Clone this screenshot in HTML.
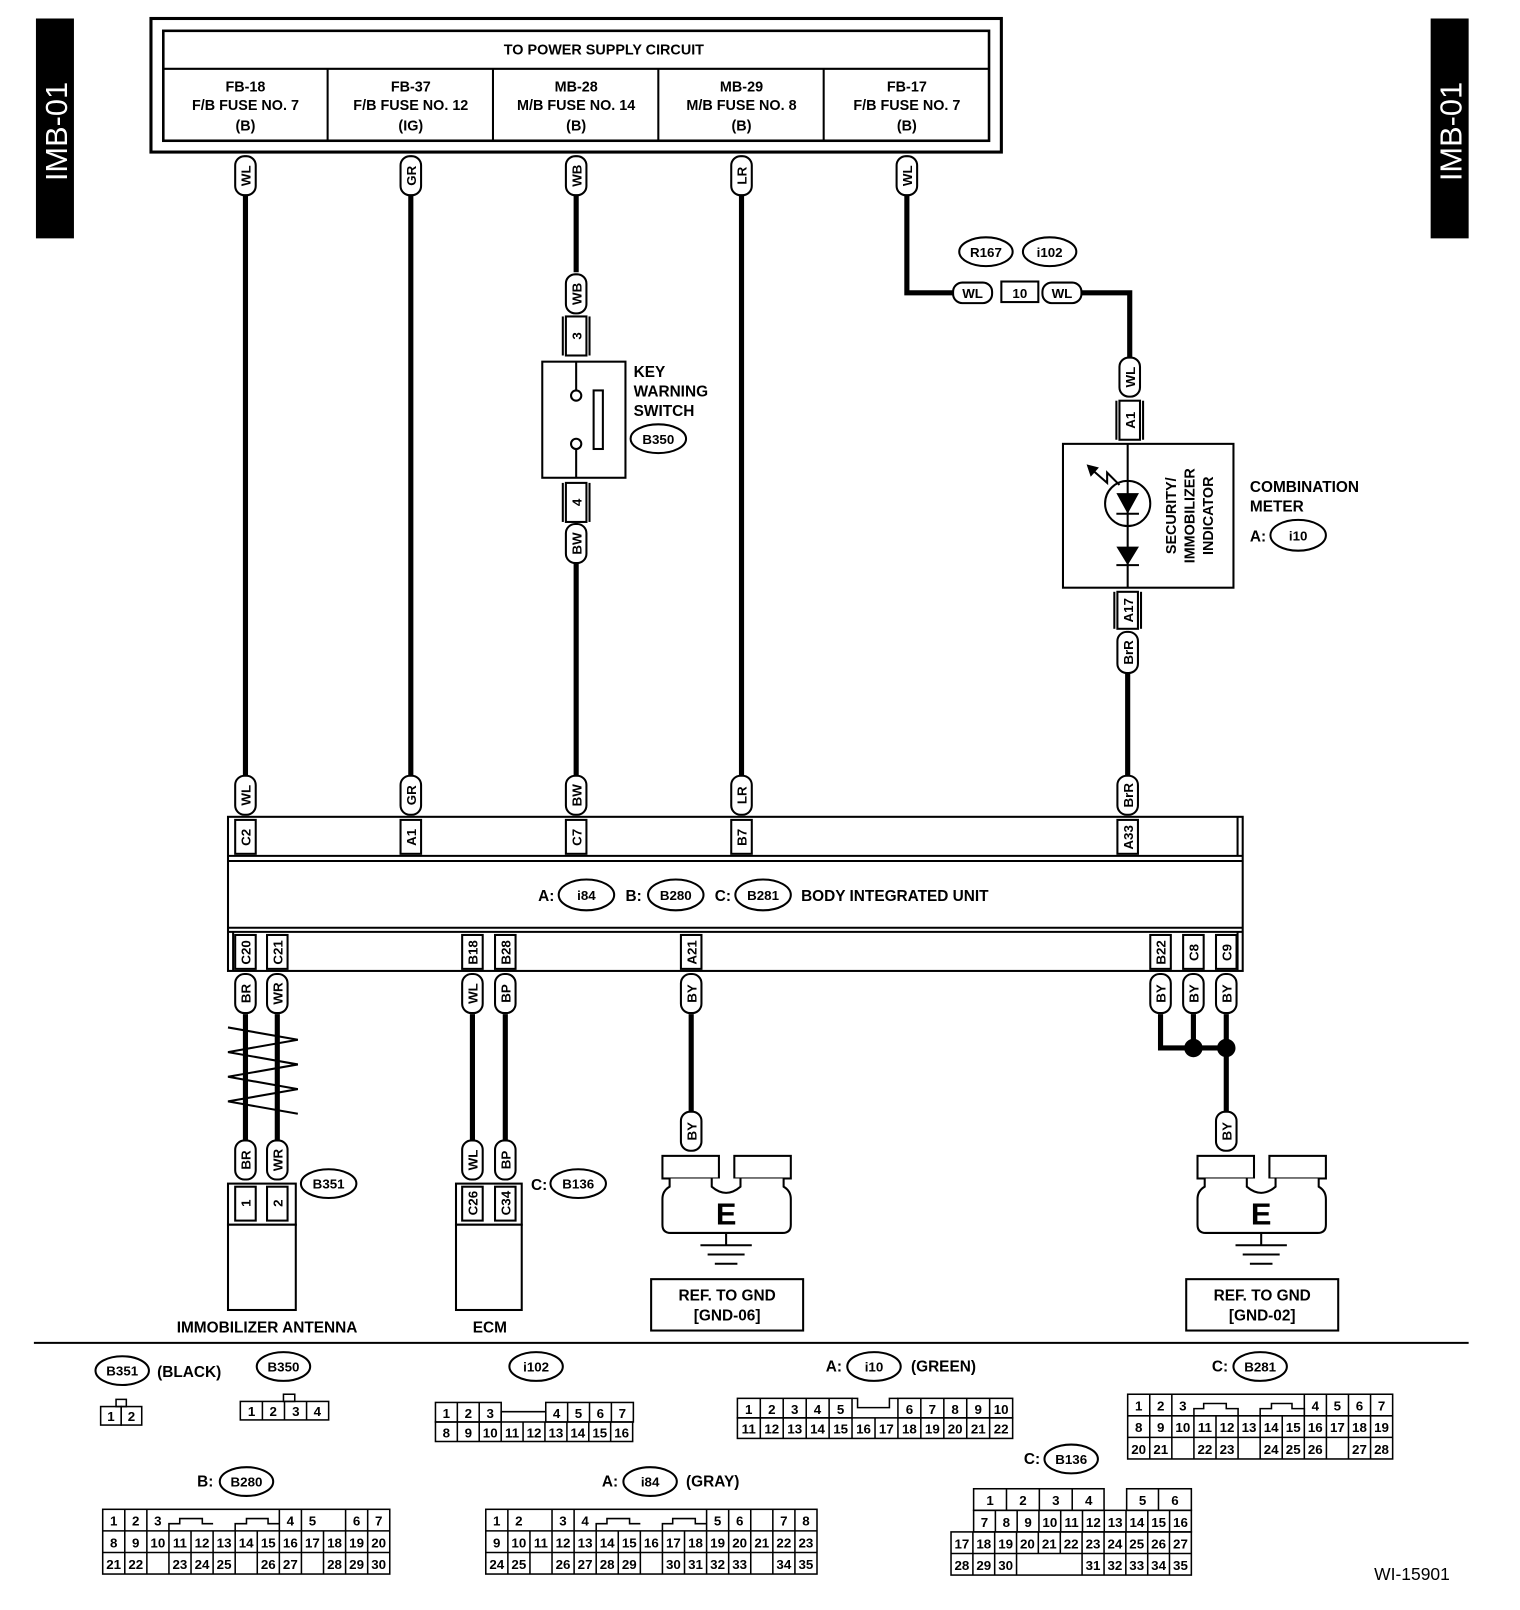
<!DOCTYPE html>
<html><head><meta charset="utf-8"><style>
html,body{margin:0;padding:0;background:#fff}
svg{display:block}
text{font-family:"Liberation Sans",sans-serif;font-weight:bold;fill:#000}
</style></head><body>
<svg width="1520" height="1610" viewBox="0 0 1480 1567" preserveAspectRatio="none" xmlns="http://www.w3.org/2000/svg">
<g font-size="14">
<rect x="35" y="18" width="37" height="214" fill="#000"/>
<text transform="translate(65,128) rotate(-90)" text-anchor="middle" font-size="30" style="fill:#fff;font-weight:normal">IMB-01</text>
<rect x="1393" y="18" width="37" height="214" fill="#000"/>
<text transform="translate(1423,128) rotate(-90)" text-anchor="middle" font-size="30" style="fill:#fff;font-weight:normal">IMB-01</text>

<rect x="147" y="18" width="828" height="130" fill="none" stroke="#000" stroke-width="3"/>
<rect x="159" y="30" width="804" height="107" fill="none" stroke="#000" stroke-width="2.5"/>
<line x1="159" y1="67" x2="963" y2="67" stroke="#000" stroke-width="2"/>
<g stroke="#000" stroke-width="2"><line x1="319" y1="67" x2="319" y2="137"/><line x1="480" y1="67" x2="480" y2="137"/><line x1="641" y1="67" x2="641" y2="137"/><line x1="802" y1="67" x2="802" y2="137"/></g>
<g font-size="14" text-anchor="middle" style="font-weight:normal">
<text x="588" y="53">TO POWER SUPPLY CIRCUIT</text>
<text x="239" y="89">FB-18</text><text x="239" y="107">F/B FUSE NO. 7</text><text x="239" y="127">(B)</text>
<text x="400" y="89">FB-37</text><text x="400" y="107">F/B FUSE NO. 12</text><text x="400" y="127">(IG)</text>
<text x="561" y="89">MB-28</text><text x="561" y="107">M/B FUSE NO. 14</text><text x="561" y="127">(B)</text>
<text x="722" y="89">MB-29</text><text x="722" y="107">M/B FUSE NO. 8</text><text x="722" y="127">(B)</text>
<text x="883" y="89">FB-17</text><text x="883" y="107">F/B FUSE NO. 7</text><text x="883" y="127">(B)</text>
</g>

<g stroke="#000" stroke-width="5" fill="none">
<line x1="239" y1="190" x2="239" y2="755"/>
<line x1="400" y1="190" x2="400" y2="755"/>
<line x1="722" y1="190" x2="722" y2="755"/>
<line x1="561" y1="190" x2="561" y2="265"/>
<line x1="561" y1="548" x2="561" y2="755"/>
<polyline points="883,190 883,285 928,285"/>
<polyline points="1053,285 1100,285 1100,348"/>
<line x1="1098" y1="655" x2="1098" y2="755"/>
<line x1="239" y1="987" x2="239" y2="1110"/>
<line x1="270" y1="987" x2="270" y2="1110"/>
<line x1="460" y1="987" x2="460" y2="1110"/>
<line x1="492" y1="987" x2="492" y2="1110"/>
<line x1="673" y1="987" x2="673" y2="1082"/>
<polyline points="1130,987 1130,1020 1194,1020"/>
<line x1="1162" y1="987" x2="1162" y2="1020"/>
<line x1="1194" y1="987" x2="1194" y2="1082"/>
</g>
<circle cx="1162" cy="1020" r="9"/><circle cx="1194" cy="1020" r="9"/>
<polyline points="222,1000 290,1012 222,1024 290,1036 222,1048 290,1060 222,1072 290,1084" fill="none" stroke="#000" stroke-width="2"/>

<g fill="#fff" stroke="#000" stroke-width="2">
<rect x="229" y="152" width="20" height="38" rx="9"/><rect x="390" y="152" width="20" height="38" rx="9"/><rect x="551" y="152" width="20" height="38" rx="9"/><rect x="712" y="152" width="20" height="38" rx="9"/><rect x="873" y="152" width="20" height="38" rx="9"/>
<rect x="551" y="267" width="20" height="38" rx="9"/><rect x="551" y="510" width="20" height="38" rx="9"/>
<rect x="1090" y="348" width="20" height="38" rx="9"/><rect x="1088" y="615" width="20" height="40" rx="9"/>
<rect x="229" y="755" width="20" height="38" rx="9"/><rect x="390" y="755" width="20" height="38" rx="9"/><rect x="551" y="755" width="20" height="38" rx="9"/><rect x="712" y="755" width="20" height="38" rx="9"/><rect x="1088" y="755" width="20" height="38" rx="9"/>
<rect x="229" y="948" width="20" height="38" rx="9"/><rect x="260" y="948" width="20" height="38" rx="9"/><rect x="450" y="948" width="20" height="38" rx="9"/><rect x="482" y="948" width="20" height="38" rx="9"/><rect x="663" y="948" width="20" height="38" rx="9"/>
<rect x="1120" y="948" width="20" height="38" rx="9"/><rect x="1152" y="948" width="20" height="38" rx="9"/><rect x="1184" y="948" width="20" height="38" rx="9"/>
<rect x="229" y="1110" width="20" height="38" rx="9"/><rect x="260" y="1110" width="20" height="38" rx="9"/><rect x="450" y="1110" width="20" height="38" rx="9"/><rect x="482" y="1110" width="20" height="38" rx="9"/>
<rect x="663" y="1082" width="20" height="38" rx="9"/><rect x="1184" y="1082" width="20" height="38" rx="9"/>
<rect x="928" y="275" width="38" height="20" rx="9"/><rect x="1015" y="275" width="38" height="20" rx="9"/>
</g>
<g font-size="13" text-anchor="middle">
<text transform="translate(244,171) rotate(-90)">WL</text><text transform="translate(405,171) rotate(-90)">GR</text><text transform="translate(566,171) rotate(-90)">WB</text><text transform="translate(727,171) rotate(-90)">LR</text><text transform="translate(888,171) rotate(-90)">WL</text>
<text transform="translate(566,286) rotate(-90)">WB</text><text transform="translate(566,529) rotate(-90)">BW</text>
<text transform="translate(1105,367) rotate(-90)">WL</text><text transform="translate(1103,635) rotate(-90)">BrR</text>
<text transform="translate(244,774) rotate(-90)">WL</text><text transform="translate(405,774) rotate(-90)">GR</text><text transform="translate(566,774) rotate(-90)">BW</text><text transform="translate(727,774) rotate(-90)">LR</text><text transform="translate(1103,774) rotate(-90)">BrR</text>
<text transform="translate(244,967) rotate(-90)">BR</text><text transform="translate(275,967) rotate(-90)">WR</text><text transform="translate(465,967) rotate(-90)">WL</text><text transform="translate(497,967) rotate(-90)">BP</text><text transform="translate(678,967) rotate(-90)">BY</text>
<text transform="translate(1135,967) rotate(-90)">BY</text><text transform="translate(1167,967) rotate(-90)">BY</text><text transform="translate(1199,967) rotate(-90)">BY</text>
<text transform="translate(244,1129) rotate(-90)">BR</text><text transform="translate(275,1129) rotate(-90)">WR</text><text transform="translate(465,1129) rotate(-90)">WL</text><text transform="translate(497,1129) rotate(-90)">BP</text>
<text transform="translate(678,1101) rotate(-90)">BY</text><text transform="translate(1199,1101) rotate(-90)">BY</text>
<text x="947" y="290">WL</text><text x="1034" y="290">WL</text>
</g>

<rect x="975" y="274" width="36" height="20" fill="#fff" stroke="#000" stroke-width="2"/>
<text x="993" y="290" text-anchor="middle" font-size="13">10</text>
<g fill="#fff" stroke="#000" stroke-width="2">
<ellipse cx="960" cy="245" rx="26" ry="14"/><ellipse cx="1022" cy="245" rx="26" ry="14"/>
<ellipse cx="641" cy="427" rx="27" ry="14"/><ellipse cx="1264" cy="521" rx="27" ry="15"/>
<ellipse cx="571" cy="871" rx="27" ry="15"/><ellipse cx="658" cy="871" rx="27" ry="15"/><ellipse cx="743" cy="871" rx="27" ry="15"/>
<ellipse cx="320" cy="1152" rx="27" ry="14"/><ellipse cx="563" cy="1152" rx="27" ry="14"/>
</g>
<g font-size="13" text-anchor="middle">
<text x="960" y="250">R167</text><text x="1022" y="250">i102</text><text x="641" y="432">B350</text><text x="1264" y="526">i10</text>
<text x="571" y="876">i84</text><text x="658" y="876">B280</text><text x="743" y="876">B281</text>
<text x="320" y="1157">B351</text><text x="563" y="1157">B136</text>
</g>

<g fill="#fff" stroke="#000" stroke-width="2">
<rect x="551" y="308" width="20" height="38"/><rect x="551" y="470" width="20" height="38"/>
<rect x="528" y="352" width="81" height="113"/>
</g>
<g stroke="#000" stroke-width="2" fill="none">
<line x1="561" y1="352" x2="561" y2="380"/><line x1="561" y1="437" x2="561" y2="465"/>
<circle cx="561" cy="385" r="5"/><circle cx="561" cy="432" r="5"/>
<rect x="578" y="380" width="9" height="57"/>
<line x1="548" y1="308" x2="548" y2="346"/><line x1="574" y1="308" x2="574" y2="346"/>
<line x1="548" y1="470" x2="548" y2="508"/><line x1="574" y1="470" x2="574" y2="508"/>
</g>
<text transform="translate(566,327) rotate(-90)" text-anchor="middle" font-size="13">3</text>
<text transform="translate(566,489) rotate(-90)" text-anchor="middle" font-size="13">4</text>
<g font-size="15"><text x="617" y="367">KEY</text><text x="617" y="386">WARNING</text><text x="617" y="405">SWITCH</text></g>

<g fill="#fff" stroke="#000" stroke-width="2">
<rect x="1090" y="390" width="20" height="38"/><rect x="1088" y="576" width="20" height="36"/>
<rect x="1035" y="432" width="166" height="140"/>
</g>
<g stroke="#000" stroke-width="2" fill="none">
<line x1="1087" y1="390" x2="1087" y2="428"/><line x1="1113" y1="390" x2="1113" y2="428"/>
<line x1="1085" y1="576" x2="1085" y2="612"/><line x1="1111" y1="576" x2="1111" y2="612"/>
<line x1="1098" y1="432" x2="1098" y2="572"/>
<circle cx="1098" cy="490" r="22"/>
<line x1="1087" y1="500" x2="1109" y2="500"/><line x1="1087" y1="550" x2="1109" y2="550"/>
<polyline points="1062,456 1078,470 1078,460 1090,472"/>
</g>
<polygon points="1087,480 1109,480 1098,500" /><polygon points="1087,532 1109,532 1098,550"/>
<polygon points="1058,452 1070,455 1062,464"/>
<text transform="translate(1105,409) rotate(-90)" text-anchor="middle" font-size="13">A1</text>
<text transform="translate(1103,594) rotate(-90)" text-anchor="middle" font-size="13">A17</text>
<g font-size="14" text-anchor="middle">
<text transform="translate(1145,502) rotate(-90)">SECURITY/</text>
<text transform="translate(1163,502) rotate(-90)">IMMOBILIZER</text>
<text transform="translate(1181,502) rotate(-90)">INDICATOR</text>
</g>
<g font-size="15"><text x="1217" y="479">COMBINATION</text><text x="1217" y="498">METER</text><text x="1217" y="527">A:</text></g>

<g fill="none" stroke="#000" stroke-width="2">
<rect x="222" y="795" width="988" height="150"/>
<line x1="222" y1="833" x2="1210" y2="833"/><line x1="222" y1="838" x2="1210" y2="838"/>
<line x1="222" y1="903" x2="1210" y2="903"/><line x1="222" y1="907" x2="1210" y2="907"/>
<line x1="1205" y1="795" x2="1205" y2="833"/><line x1="227" y1="907" x2="227" y2="945"/><line x1="1205" y1="907" x2="1205" y2="945"/>
</g>
<g fill="#fff" stroke="#000" stroke-width="2">
<rect x="229" y="798" width="20" height="33"/><rect x="390" y="798" width="20" height="33"/><rect x="551" y="798" width="20" height="33"/><rect x="712" y="798" width="20" height="33"/><rect x="1088" y="798" width="20" height="33"/>
<rect x="229" y="910" width="20" height="33"/><rect x="260" y="910" width="20" height="33"/><rect x="450" y="910" width="20" height="33"/><rect x="482" y="910" width="20" height="33"/><rect x="663" y="910" width="20" height="33"/>
<rect x="1120" y="910" width="20" height="33"/><rect x="1152" y="910" width="20" height="33"/><rect x="1184" y="910" width="20" height="33"/>
</g>
<g font-size="13" text-anchor="middle">
<text transform="translate(244,815) rotate(-90)">C2</text><text transform="translate(405,815) rotate(-90)">A1</text><text transform="translate(566,815) rotate(-90)">C7</text><text transform="translate(727,815) rotate(-90)">B7</text><text transform="translate(1103,815) rotate(-90)">A33</text>
<text transform="translate(244,927) rotate(-90)">C20</text><text transform="translate(275,927) rotate(-90)">C21</text><text transform="translate(465,927) rotate(-90)">B18</text><text transform="translate(497,927) rotate(-90)">B28</text><text transform="translate(678,927) rotate(-90)">A21</text>
<text transform="translate(1135,927) rotate(-90)">B22</text><text transform="translate(1167,927) rotate(-90)">C8</text><text transform="translate(1199,927) rotate(-90)">C9</text>
</g>
<g font-size="15"><text x="524" y="877">A:</text><text x="609" y="877">B:</text><text x="696" y="877">C:</text><text x="780" y="877">BODY INTEGRATED UNIT</text></g>

<g fill="#fff" stroke="#000" stroke-width="2">
<rect x="222" y="1152" width="66" height="40"/><rect x="222" y="1192" width="66" height="83"/>
<rect x="229" y="1155" width="20" height="33"/><rect x="260" y="1155" width="20" height="33"/>
<rect x="444" y="1152" width="64" height="40"/><rect x="444" y="1192" width="64" height="83"/>
<rect x="450" y="1155" width="20" height="33"/><rect x="482" y="1155" width="20" height="33"/>
</g>
<g font-size="13" text-anchor="middle">
<text transform="translate(244,1171) rotate(-90)">1</text><text transform="translate(275,1171) rotate(-90)">2</text>
<text transform="translate(465,1171) rotate(-90)">C26</text><text transform="translate(497,1171) rotate(-90)">C34</text>
</g>
<g font-size="15" text-anchor="middle"><text x="260" y="1297">IMMOBILIZER ANTENNA</text><text x="477" y="1297">ECM</text></g>
<text x="517" y="1158" font-size="15">C:</text>

<g>
<g fill="#fff" stroke="#000" stroke-width="2">
<rect x="645" y="1125" width="55" height="22"/><rect x="715" y="1125" width="55" height="22"/>
<path d="M652,1147 v8 q-7,4 -7,12 v25 q0,8 8,8 h109 q8,0 8,-8 v-25 q0,-8 -7,-12 v-8"/>
<path d="M693,1147 v8 q7,6 14,6 q7,0 14,-6 v-8" />
</g>
<text x="707" y="1192" text-anchor="middle" font-size="30">E</text>
<g stroke="#000" stroke-width="2"><line x1="707" y1="1200" x2="707" y2="1212"/><line x1="682" y1="1212" x2="732" y2="1212"/><line x1="689" y1="1221" x2="725" y2="1221"/><line x1="696" y1="1230" x2="718" y2="1230"/></g>
<rect x="634" y="1245" width="148" height="50" fill="#fff" stroke="#000" stroke-width="2"/>
</g>
<g transform="translate(521,0)">
<g fill="#fff" stroke="#000" stroke-width="2">
<rect x="645" y="1125" width="55" height="22"/><rect x="715" y="1125" width="55" height="22"/>
<path d="M652,1147 v8 q-7,4 -7,12 v25 q0,8 8,8 h109 q8,0 8,-8 v-25 q0,-8 -7,-12 v-8"/>
<path d="M693,1147 v8 q7,6 14,6 q7,0 14,-6 v-8" />
</g>
<text x="707" y="1192" text-anchor="middle" font-size="30">E</text>
<g stroke="#000" stroke-width="2"><line x1="707" y1="1200" x2="707" y2="1212"/><line x1="682" y1="1212" x2="732" y2="1212"/><line x1="689" y1="1221" x2="725" y2="1221"/><line x1="696" y1="1230" x2="718" y2="1230"/></g>
<rect x="634" y="1245" width="148" height="50" fill="#fff" stroke="#000" stroke-width="2"/>
</g>
<g font-size="15" text-anchor="middle">
<text x="708" y="1266">REF. TO GND</text><text x="708" y="1285">[GND-06]</text>
<text x="1229" y="1266">REF. TO GND</text><text x="1229" y="1285">[GND-02]</text>
</g>

<line x1="33" y1="1307" x2="1430" y2="1307" stroke="#000" stroke-width="2"/>

<g fill="#fff" stroke="#000" stroke-width="2">
<ellipse cx="119" cy="1334" rx="26" ry="14"/><ellipse cx="276" cy="1330" rx="26" ry="14"/><ellipse cx="522" cy="1330" rx="26" ry="14"/>
<ellipse cx="851" cy="1330" rx="26" ry="14"/><ellipse cx="1227" cy="1330" rx="26" ry="14"/><ellipse cx="1043" cy="1420" rx="26" ry="14"/>
<ellipse cx="240" cy="1442" rx="26" ry="14"/><ellipse cx="633" cy="1442" rx="26" ry="14"/>
</g>
<g font-size="13" text-anchor="middle">
<text x="119" y="1339">B351</text><text x="276" y="1335">B350</text><text x="522" y="1335">i102</text><text x="851" y="1335">i10</text>
<text x="1227" y="1335">B281</text><text x="1043" y="1425">B136</text><text x="240" y="1447">B280</text><text x="633" y="1447">i84</text>
</g>
<g font-size="15">
<text x="153" y="1340">(BLACK)</text><text x="804" y="1335">A:</text><text x="887" y="1335">(GREEN)</text><text x="1180" y="1335">C:</text>
<text x="997" y="1425">C:</text><text x="192" y="1447">B:</text><text x="586" y="1447">A:</text><text x="668" y="1447">(GRAY)</text>
<text x="1338" y="1538" style="font-weight:normal" font-size="17">WI-15901</text>
</g>

<g fill="none" stroke="#000" stroke-width="1.5" font-size="13">
<rect x="113" y="1362" width="10" height="7"/>
<rect x="98" y="1369" width="20" height="18"/><rect x="118" y="1369" width="20" height="18"/>
<rect x="276" y="1357" width="11" height="7"/>
<rect x="234" y="1364" width="86" height="18"/>
<line x1="255.5" y1="1364" x2="255.5" y2="1382"/><line x1="277" y1="1364" x2="277" y2="1382"/><line x1="298.5" y1="1364" x2="298.5" y2="1382"/>
<rect x="424" y="1365" width="64" height="19"/><line x1="445.3" y1="1365" x2="445.3" y2="1384"/><line x1="466.6" y1="1365" x2="466.6" y2="1384"/>
<rect x="531.4" y="1365" width="85.3" height="19"/><line x1="552.7" y1="1365" x2="552.7" y2="1384"/><line x1="574" y1="1365" x2="574" y2="1384"/><line x1="595.3" y1="1365" x2="595.3" y2="1384"/>
<polyline points="488,1384 488,1374 499,1374 499,1374 520,1374 531.4,1374 531.4,1384"/>
<rect x="424" y="1384" width="192" height="19"/>
<rect x="718" y="1361" width="111.6" height="19"/><rect x="874.3" y="1361" width="111.7" height="19"/>
<polyline points="829.6,1361 835,1361 835,1370 866,1370 866,1361 874.3,1361"/>
<rect x="718" y="1380" width="268" height="20"/>
<rect x="1098" y="1357" width="258" height="63"/>
<rect x="100" y="1469" width="279.5" height="63"/>
<rect x="473" y="1469" width="322.5" height="63"/>
<rect x="948" y="1449" width="127" height="21"/><rect x="1097" y="1449" width="63" height="21"/>
<rect x="948" y="1470" width="212" height="21"/>
<rect x="926" y="1491" width="234" height="42"/>
</g>

<g font-size="13" text-anchor="middle" style="font-weight:normal">
<text x="108" y="1383">1</text><text x="128" y="1383">2</text>
<text x="245" y="1378">1</text><text x="266" y="1378">2</text><text x="288" y="1378">3</text><text x="309" y="1378">4</text>
<text x="434.6" y="1380">1</text><text x="456" y="1380">2</text><text x="477.3" y="1380">3</text><text x="542" y="1380">4</text><text x="563.3" y="1380">5</text><text x="584.6" y="1380">6</text><text x="606" y="1380">7</text>
</g>
<g fill="none" stroke="#000" stroke-width="1.5">
<path d="M445.3,1384v19M466.6,1384v19M488,1384v19M509.3,1384v19M530.6,1384v19M552,1384v19M573.3,1384v19M594.6,1384v19"/>
<path d="M740.3,1361v19M762.6,1361v19M785,1361v19M807.3,1361v19M896.6,1361v19M919,1361v19M941.3,1361v19M963.6,1361v19"/>
<path d="M740.3,1380v20M762.6,1380v20M785,1380v20M807.3,1380v20M829.6,1380v20M852,1380v20M874.3,1380v20M896.6,1380v20M919,1380v20M941.3,1380v20M963.6,1380v20"/>
<path d="M1119.5,1357v63M1141,1357v63M1162.5,1378v42M1184,1378v42M1205.5,1378v42M1227,1378v42M1248.5,1378v42M1270,1357v63M1291.5,1357v63M1313,1357v63M1334.5,1357v63M1098,1378h258M1098,1399h258"/>
<polyline points="1162.5,1378 1162.5,1371 1172,1371 1172,1366 1194,1366 1194,1371 1205.5,1371 1205.5,1378"/>
<polyline points="1227,1378 1227,1371 1238,1371 1238,1366 1258,1366 1258,1371 1270,1371 1270,1378"/>
<path d="M121.5,1469v63M143,1469v63M164.5,1490v42M186,1490v42M207.5,1490v42M229,1490v42M250.5,1490v42M272,1469v63M293.5,1469v63M315,1490v42M336.5,1469v63M358,1469v63M100,1490h279.5M100,1511h279.5"/>
<polyline points="164.5,1490 164.5,1483 175,1483 175,1478 197,1478 197,1483 207.5,1483"/>
<polyline points="229,1490 229,1483 240,1483 240,1478 261,1478 261,1483 272,1483"/>
<path d="M494.5,1469v63M516,1490v42M537.5,1469v63M559,1469v63M580.5,1490v42M602,1490v42M623.5,1490v42M645,1490v42M666.5,1490v42M688,1469v63M709.5,1469v63M731,1469v63M752.5,1469v63M774,1469v63M473,1490h322.5M473,1511h322.5"/>
<polyline points="580.5,1490 580.5,1483 591,1483 591,1478 613,1478 613,1483 623.5,1483"/>
<polyline points="645,1490 645,1483 655,1483 655,1478 677,1478 677,1483 688,1483"/>
<path d="M980,1449v21M1012,1449v21M1044,1449v21M1128,1449v21"/>
<path d="M969.2,1470v21M990.4,1470v21M1011.6,1470v21M1032.8,1470v21M1054,1470v21M1075.2,1470v21M1096.4,1470v21M1117.6,1470v21M1138.8,1470v21"/>
<path d="M926,1512h234M947.3,1491v42M968.5,1491v42M989.8,1491v42M1011,1491v21M1032.4,1491v21M1053.6,1491v42M1075,1491v42M1096.2,1491v42M1117.5,1491v42M1138.7,1491v42"/>
</g>
<g font-size="13" text-anchor="middle" style="font-weight:normal">
<text x="434.6" y="1399">8</text><text x="456" y="1399">9</text><text x="477.3" y="1399">10</text><text x="498.6" y="1399">11</text><text x="520" y="1399">12</text><text x="541.3" y="1399">13</text><text x="562.6" y="1399">14</text><text x="584" y="1399">15</text><text x="605.3" y="1399">16</text>
<text x="729" y="1376">1</text><text x="751.5" y="1376">2</text><text x="773.8" y="1376">3</text><text x="796" y="1376">4</text><text x="818.5" y="1376">5</text><text x="885.5" y="1376">6</text><text x="907.8" y="1376">7</text><text x="930" y="1376">8</text><text x="952.5" y="1376">9</text><text x="974.8" y="1376">10</text>
<text x="729" y="1395">11</text><text x="751.5" y="1395">12</text><text x="773.8" y="1395">13</text><text x="796" y="1395">14</text><text x="818.5" y="1395">15</text><text x="840.8" y="1395">16</text><text x="863" y="1395">17</text><text x="885.5" y="1395">18</text><text x="907.8" y="1395">19</text><text x="930" y="1395">20</text><text x="952.5" y="1395">21</text><text x="974.8" y="1395">22</text>
<text x="1108.7" y="1373">1</text><text x="1130.2" y="1373">2</text><text x="1151.7" y="1373">3</text><text x="1280.7" y="1373">4</text><text x="1302.2" y="1373">5</text><text x="1323.7" y="1373">6</text><text x="1345.2" y="1373">7</text>
<text x="1108.7" y="1394">8</text><text x="1130.2" y="1394">9</text><text x="1151.7" y="1394">10</text><text x="1173.2" y="1394">11</text><text x="1194.7" y="1394">12</text><text x="1216.2" y="1394">13</text><text x="1237.7" y="1394">14</text><text x="1259.2" y="1394">15</text><text x="1280.7" y="1394">16</text><text x="1302.2" y="1394">17</text><text x="1323.7" y="1394">18</text><text x="1345.2" y="1394">19</text>
<text x="1108.7" y="1415">20</text><text x="1130.2" y="1415">21</text><text x="1173.2" y="1415">22</text><text x="1194.7" y="1415">23</text><text x="1237.7" y="1415">24</text><text x="1259.2" y="1415">25</text><text x="1280.7" y="1415">26</text><text x="1323.7" y="1415">27</text><text x="1345.2" y="1415">28</text>
<text x="110.7" y="1485">1</text><text x="132.2" y="1485">2</text><text x="153.7" y="1485">3</text><text x="282.7" y="1485">4</text><text x="304.2" y="1485">5</text><text x="347.2" y="1485">6</text><text x="368.7" y="1485">7</text>
<text x="110.7" y="1506">8</text><text x="132.2" y="1506">9</text><text x="153.7" y="1506">10</text><text x="175.2" y="1506">11</text><text x="196.7" y="1506">12</text><text x="218.2" y="1506">13</text><text x="239.7" y="1506">14</text><text x="261.2" y="1506">15</text><text x="282.7" y="1506">16</text><text x="304.2" y="1506">17</text><text x="325.7" y="1506">18</text><text x="347.2" y="1506">19</text><text x="368.7" y="1506">20</text>
<text x="110.7" y="1527">21</text><text x="132.2" y="1527">22</text><text x="175.2" y="1527">23</text><text x="196.7" y="1527">24</text><text x="218.2" y="1527">25</text><text x="261.2" y="1527">26</text><text x="282.7" y="1527">27</text><text x="325.7" y="1527">28</text><text x="347.2" y="1527">29</text><text x="368.7" y="1527">30</text>
<text x="483.7" y="1485">1</text><text x="505.2" y="1485">2</text><text x="548.2" y="1485">3</text><text x="569.7" y="1485">4</text><text x="698.7" y="1485">5</text><text x="720.2" y="1485">6</text><text x="763.2" y="1485">7</text><text x="784.7" y="1485">8</text>
<text x="483.7" y="1506">9</text><text x="505.2" y="1506">10</text><text x="526.7" y="1506">11</text><text x="548.2" y="1506">12</text><text x="569.7" y="1506">13</text><text x="591.2" y="1506">14</text><text x="612.7" y="1506">15</text><text x="634.2" y="1506">16</text><text x="655.7" y="1506">17</text><text x="677.2" y="1506">18</text><text x="698.7" y="1506">19</text><text x="720.2" y="1506">20</text><text x="741.7" y="1506">21</text><text x="763.2" y="1506">22</text><text x="784.7" y="1506">23</text>
<text x="483.7" y="1527">24</text><text x="505.2" y="1527">25</text><text x="548.2" y="1527">26</text><text x="569.7" y="1527">27</text><text x="591.2" y="1527">28</text><text x="612.7" y="1527">29</text><text x="655.7" y="1527">30</text><text x="677.2" y="1527">31</text><text x="698.7" y="1527">32</text><text x="720.2" y="1527">33</text><text x="763.2" y="1527">34</text><text x="784.7" y="1527">35</text>
<text x="964" y="1465">1</text><text x="996" y="1465">2</text><text x="1028" y="1465">3</text><text x="1060" y="1465">4</text><text x="1112.5" y="1465">5</text><text x="1144" y="1465">6</text>
<text x="958.6" y="1486">7</text><text x="979.8" y="1486">8</text><text x="1001" y="1486">9</text><text x="1022.2" y="1486">10</text><text x="1043.4" y="1486">11</text><text x="1064.6" y="1486">12</text><text x="1085.8" y="1486">13</text><text x="1107" y="1486">14</text><text x="1128.2" y="1486">15</text><text x="1149.4" y="1486">16</text>
<text x="936.6" y="1507">17</text><text x="957.9" y="1507">18</text><text x="979.2" y="1507">19</text><text x="1000.4" y="1507">20</text><text x="1021.7" y="1507">21</text><text x="1043" y="1507">22</text><text x="1064.3" y="1507">23</text><text x="1085.6" y="1507">24</text><text x="1106.8" y="1507">25</text><text x="1128.1" y="1507">26</text><text x="1149.4" y="1507">27</text>
<text x="936.6" y="1528">28</text><text x="957.9" y="1528">29</text><text x="979.2" y="1528">30</text><text x="1064.3" y="1528">31</text><text x="1085.6" y="1528">32</text><text x="1106.8" y="1528">33</text><text x="1128.1" y="1528">34</text><text x="1149.4" y="1528">35</text>
</g>
</g>
</svg>
</body></html>
